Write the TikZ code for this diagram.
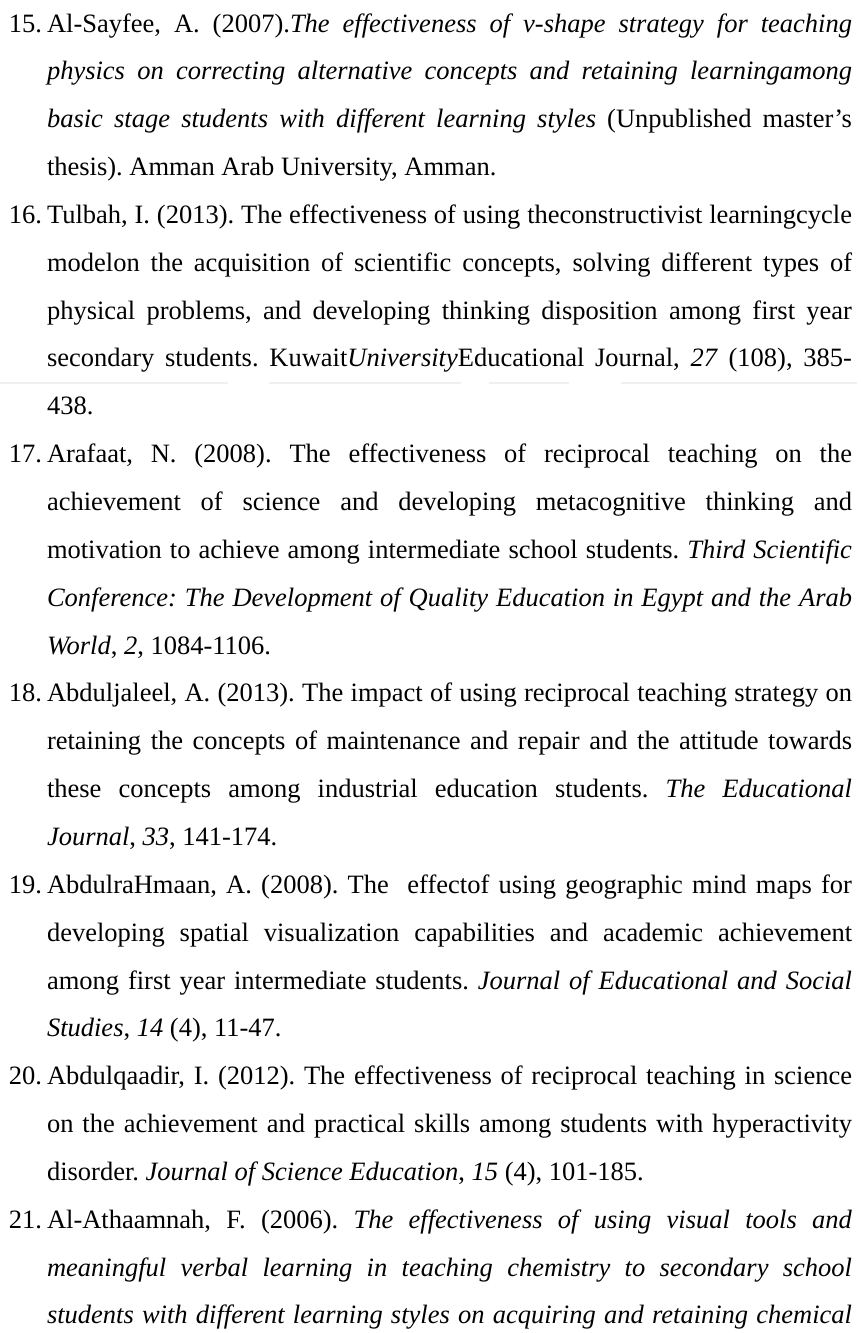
\documentclass[tikz,border=0pt]{standalone}
\usepackage{fontspec}
\setmainfont{Liberation Serif}
\frenchspacing
\newcommand{\J}[1]{\makebox[805pt][s]{#1}}
\begin{document}
\frenchspacing
\begin{tikzpicture}[x=1pt,y=1pt,
  txt/.style={anchor=base west, inner sep=0pt, outer sep=0pt, font=\fontsize{26.5}{30}\selectfont\frenchspacing, text=black},
  num/.style={txt},
  band/.style={line width=1.6pt, draw=black!6}]
\useasboundingbox (0,0) rectangle (861,-1333);
\def\s{47.85}
% faint scan band
\draw[band] (0,-383) -- (228,-383);
\draw[band] (269,-383) -- (461,-383);
\draw[band] (489,-383) -- (569,-383);
\draw[band] (621,-383) -- (857,-383);
% 15
\node[num] (n15) at (9,{-32-0*\s}) {15.};
\node[txt] (l1) at (47,{-32-0*\s}) {\J{Al-Sayfee, A. (2007).\textit{The effectiveness of v-shape strategy for teaching}}};
\node[txt] (l2) at (47,{-32-1*\s}) {\J{\textit{physics on correcting alternative concepts and retaining learningamong}}};
\node[txt] (l3) at (47,{-32-2*\s}) {\J{\textit{basic stage students with different learning styles} (Unpublished master’s}};
\node[txt] (l4) at (47,{-32-3*\s}) {thesis). Amman Arab University, Amman.};
% 16
\node[num] (n16) at (9,{-32-4*\s}) {16.};
\node[txt] (l5) at (47,{-32-4*\s}) {\J{Tulbah, I. (2013). The effectiveness of using theconstructivist learningcycle}};
\node[txt] (l6) at (47,{-32-5*\s}) {\J{modelon the acquisition of scientific concepts, solving different types of}};
\node[txt] (l7) at (47,{-32-6*\s}) {\J{physical problems, and developing thinking disposition among first year}};
\node[txt] (l8) at (47,{-32-7*\s}) {\J{secondary students. Kuwait\textit{University}Educational Journal, \textit{27} (108), 385-}};
\node[txt] (l9) at (47,{-32-8*\s}) {438.};
% 17
\node[num] (n17) at (9,{-32-9*\s}) {17.};
\node[txt] (l10) at (47,{-32-9*\s}) {\J{Arafaat, N. (2008). The effectiveness of reciprocal teaching on the}};
\node[txt] (l11) at (47,{-32-10*\s}) {\J{achievement of science and developing metacognitive thinking and}};
\node[txt] (l12) at (47,{-32-11*\s}) {\J{motivation to achieve among intermediate school students. \textit{Third Scientific}}};
\node[txt] (l13) at (47,{-32-12*\s}) {\J{\textit{Conference: The Development of Quality Education in Egypt and the Arab}}};
\node[txt] (l14) at (47,{-32-13*\s}) {\textit{World}, \textit{2}, 1084-1106.};
% 18
\node[num] (n18) at (9,{-32-14*\s}) {18.};
\node[txt] (l15) at (47,{-32-14*\s}) {\J{Abduljaleel, A. (2013). The impact of using reciprocal teaching strategy on}};
\node[txt] (l16) at (47,{-32-15*\s}) {\J{retaining the concepts of maintenance and repair and the attitude towards}};
\node[txt] (l17) at (47,{-32-16*\s}) {\J{these concepts among industrial education students. \textit{The Educational}}};
\node[txt] (l18) at (47,{-32-17*\s}) {\textit{Journal}, \textit{33}, 141-174.};
% 19
\node[num] (n19) at (9,{-32-18*\s}) {19.};
\node[txt] (l19) at (47,{-32-18*\s}) {\J{AbdulraHmaan, A. (2008). The\ \ effectof using geographic mind maps for}};
\node[txt] (l20) at (47,{-32-19*\s}) {\J{developing spatial visualization capabilities and academic achievement}};
\node[txt] (l21) at (47,{-32-20*\s}) {\J{among first year intermediate students. \textit{Journal of Educational and Social}}};
\node[txt] (l22) at (47,{-32-21*\s}) {\textit{Studies}, \textit{14} (4), 11-47.};
% 20
\node[num] (n20) at (9,{-32-22*\s}) {20.};
\node[txt] (l23) at (47,{-32-22*\s}) {\J{Abdulqaadir, I. (2012). The effectiveness of reciprocal teaching in science}};
\node[txt] (l24) at (47,{-32-23*\s}) {\J{on the achievement and practical skills among students with hyperactivity}};
\node[txt] (l25) at (47,{-32-24*\s}) {disorder. \textit{Journal of Science Education}, \textit{15} (4), 101-185.};
% 21
\node[num] (n21) at (9,{-32-25*\s}) {21.};
\node[txt] (l26) at (47,{-32-25*\s}) {\J{Al-Athaamnah, F. (2006). \textit{The effectiveness of using visual tools and}}};
\node[txt] (l27) at (47,{-32-26*\s}) {\J{\textit{meaningful verbal learning in teaching chemistry to secondary school}}};
\node[txt] (l28) at (47,{-32-27*\s}) {\J{\textit{students with different learning styles on acquiring and retaining chemical}}};
\end{tikzpicture}
\end{document}
